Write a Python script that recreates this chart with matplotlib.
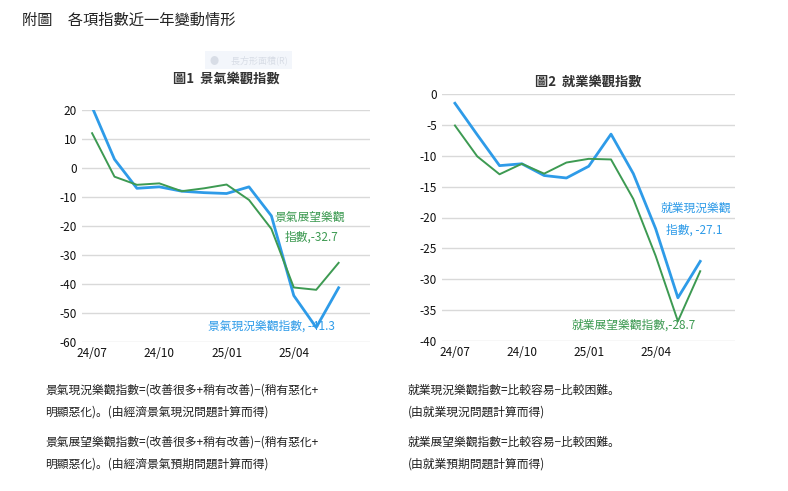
import matplotlib.pyplot as plt
import numpy as np

plt.rcParams['font.family'] = ['Noto Sans CJK JP', 'Noto Sans CJK TC', 'Noto Sans CJK SC', 'DejaVu Sans']
plt.rcParams['axes.unicode_minus'] = False

months = ['24/07', '24/08', '24/09', '24/10', '24/11', '24/12',
          '25/01', '25/02', '25/03', '25/04', '25/05', '25/06']
tick_labels = ['24/07', '24/10', '25/01', '25/04']

biz_now = [21, 3, -7, -6.5, -8, -8.5, -8.8, -6.5, -16.5, -44, -55, -41.3]
biz_exp = [12, -3, -5.8, -5.3, -8, -7, -5.7, -11, -21, -41.2, -42, -32.7]
job_now = [-1.5, -6.6, -11.6, -11.3, -13.2, -13.6, -11.7, -6.5, -12.9, -21.8, -33, -27.1]
job_exp = [-5.1, -10.1, -13, -11.3, -12.9, -11.1, -10.5, -10.6, -17, -26.2, -36.8, -28.7]

BLUE = '#2e9be8'
GREEN = '#3d9a52'

fig = plt.figure(figsize=(7.88, 4.91), dpi=100)
fig.patch.set_facecolor('white')

fig.text(22/788, 1-20/491, '附圖　各項指數近一年變動情形', fontsize=11, va='center', color='#222222')

# faint legend box at top
fig.text(210/788, 1-60/491, '●      長方形面積(R)', fontsize=6.5, va='center', color='#d8dde6',
         bbox=dict(boxstyle='square,pad=0.5', fc='#f3f6fb', ec='none'))

x = np.arange(len(months))


def style_ax(ax, yticks):
    for s in ax.spines.values():
        s.set_visible(False)
    ax.set_yticks(yticks)
    ax.yaxis.grid(True, color='#d9d9d9', lw=1)
    ax.set_axisbelow(True)
    ax.tick_params(length=0, labelsize=8.5, colors='#111111')
    ax.set_xticks([months.index(t) for t in tick_labels])
    ax.set_xticklabels(tick_labels)


# left chart
ax1 = fig.add_axes([82/788, 1-342/491, 288/788, 232/491])
ax1.plot(x, biz_now, color=BLUE, lw=2)
ax1.plot(x, biz_exp, color=GREEN, lw=1.4)
ax1.set_ylim(-60, 20)
ax1.set_xlim(-0.45, 12.4)
style_ax(ax1, range(-60, 21, 10))
ax1.set_title('圖1  景氣樂觀指數', fontsize=9.5, fontweight='bold', pad=20, color='#333333')
ax1.text(11.3, -17, '景氣展望樂觀', color=GREEN, fontsize=8.5, ha='right', va='center')
ax1.text(11.0, -24, '指數,-32.7', color=GREEN, fontsize=8.5, ha='right', va='center')
ax1.text(8.0, -54.5, '景氣現況樂觀指數, -41.3', color=BLUE, fontsize=8.5, ha='center', va='center')

# right chart
ax2 = fig.add_axes([442/788, 1-341/491, 293/788, 247/491])
ax2.plot(x, job_now, color=BLUE, lw=2)
ax2.plot(x, job_exp, color=GREEN, lw=1.4)
ax2.set_ylim(-40, 0)
ax2.set_xlim(-0.58, 12.56)
style_ax(ax2, range(-40, 1, 5))
ax2.set_title('圖2  就業樂觀指數', fontsize=9.5, fontweight='bold', pad=6, color='#333333')
ax2.text(12.4, -18.5, '就業現況樂觀', color=BLUE, fontsize=8.5, ha='right', va='center')
ax2.text(12.0, -22, '指數, -27.1', color=BLUE, fontsize=8.5, ha='right', va='center')
ax2.text(8.0, -37.5, '就業展望樂觀指數,-28.7', color=GREEN, fontsize=8.5, ha='center', va='center')

# footnotes
notes = [
    (45, 390, '景氣現況樂觀指數=(改善很多+稍有改善)−(稍有惡化+'),
    (45, 412, '明顯惡化)。(由經濟景氣現況問題計算而得)'),
    (45, 442, '景氣展望樂觀指數=(改善很多+稍有改善)−(稍有惡化+'),
    (45, 464, '明顯惡化)。(由經濟景氣預期問題計算而得)'),
    (408, 390, '就業現況樂觀指數=比較容易−比較困難。'),
    (408, 412, '(由就業現況問題計算而得)'),
    (408, 442, '就業展望樂觀指數=比較容易−比較困難。'),
    (408, 464, '(由就業預期問題計算而得)'),
]
for px, py, t in notes:
    fig.text(px/788, 1-py/491, t, fontsize=8.5, va='center', color='#222222')

fig.savefig('out.png', dpi=100)
